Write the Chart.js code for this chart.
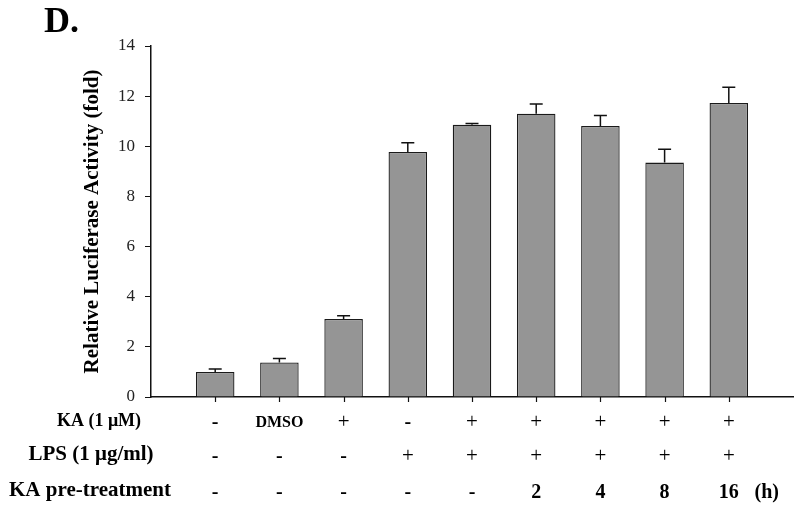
<!DOCTYPE html>
<html>
<head>
<meta charset="utf-8">
<script src="https://cdn.jsdelivr.net/npm/chart.js@4/dist/chart.umd.min.js"></script>
<style>
  html, body { margin: 0; padding: 0; background: #fff; }
  #wrap { width: 800px; height: 511px; position: relative; }
</style>
</head>
<body>
<div id="wrap"><canvas id="luciferaseChart"></canvas></div>
<script>
// groups (empty slot at both ends so the axis runs past the outer bars)
const groups = ['', 'g1', 'g2', 'g3', 'g4', 'g5', 'g6', 'g7', 'g8', 'g9', ''];
const foldValues = [null, 1.0, 1.38, 3.11, 9.77, 10.86, 11.30, 10.81, 9.35, 11.73, null];
const foldErrors = [null, 0.12, 0.16, 0.13, 0.37, 0.05, 0.39, 0.42, 0.53, 0.62, null];
const yTicks = [0, 2, 4, 6, 8, 10, 12, 14];

// treatment table under the x axis
const rowLabels = ['KA (1 \u03bcM)', 'LPS (1 \u03bcg/ml)', 'KA pre-treatment'];
const kaRow = ['-', 'DMSO', '+', '-', '+', '+', '+', '+', '+'];
const lpsRow = ['-', '-', '-', '+', '+', '+', '+', '+', '+'];
const preRow = ['-', '-', '-', '-', '-', '2', '4', '8', '16'];
const preUnit = '(h)';
const panelLabel = 'D.';

const serif = '"Liberation Serif", "Times New Roman", serif';

const extrasPlugin = {
    id: 'extras',
    afterDatasetsDraw(chart) {
        const ctx = chart.ctx;
        const y = chart.scales.y;
        const meta = chart.getDatasetMeta(0);
        ctx.save();
        ctx.strokeStyle = '#111';
        ctx.lineWidth = 1.5;
        meta.data.forEach((bar, i) => {
            if (foldValues[i] === null) return;
            const top = y.getPixelForValue(foldValues[i] + foldErrors[i]);
            ctx.beginPath();
            ctx.moveTo(bar.x, bar.y);
            ctx.lineTo(bar.x, top);
            ctx.moveTo(bar.x - 6.5, top);
            ctx.lineTo(bar.x + 6.5, top);
            ctx.stroke();
        });
        ctx.restore();
    },
    afterDraw(chart) {
        const ctx = chart.ctx;
        const x = chart.scales.x;
        const area = chart.chartArea;
        ctx.save();

        // x tick marks under each bar
        ctx.strokeStyle = '#111';
        ctx.lineWidth = 1.2;
        groups.forEach((g, i) => {
            if (!g) return;
            const px = Math.round(x.getPixelForValue(i)) + 0.5;
            ctx.beginPath();
            ctx.moveTo(px, area.bottom);
            ctx.lineTo(px, area.bottom + 5);
            ctx.stroke();
        });

        ctx.fillStyle = '#000';

        // panel letter
        ctx.textAlign = 'left';
        ctx.textBaseline = 'alphabetic';
        ctx.font = 'bold 36px ' + serif;
        ctx.fillText(panelLabel, 44, 32);

        const rows = [kaRow, lpsRow, preRow];
        const baselines = [428, 462, 498];
        const labelX = [99, 91, 90];
        const labelSize = [18, 21, 21];
        rows.forEach((row, r) => {
            ctx.textAlign = 'center';
            ctx.font = 'bold ' + labelSize[r] + 'px ' + serif;
            ctx.fillText(rowLabels[r], labelX[r], baselines[r] - 2);
            row.forEach((cell, i) => {
                const cx = x.getPixelForValue(i + 1);
                if (cell === '+') ctx.font = '21px ' + serif;
                else if (cell === 'DMSO') ctx.font = 'bold 16px ' + serif;
                else ctx.font = 'bold 20px ' + serif;
                ctx.fillText(cell, cx, baselines[r] - (cell === 'DMSO' ? 1 : 0));
            });
        });
        ctx.font = 'bold 20px ' + serif;
        ctx.fillText(preUnit, x.getPixelForValue(9) + 38, baselines[2]);
        ctx.restore();
    }
};

new Chart(document.getElementById('luciferaseChart'), {
    type: 'bar',
    data: {
        labels: groups,
        datasets: [{
            data: foldValues,
            backgroundColor: '#959595',
            borderColor: '#1a1a1a',
            borderWidth: 1.3,
            barPercentage: 0.6,
            categoryPercentage: 1.0
        }]
    },
    options: {
        responsive: true,
        maintainAspectRatio: false,
        animation: false,
        layout: { padding: { left: 0, right: 7, top: 46, bottom: 0 } },
        plugins: {
            legend: { display: false },
            tooltip: { enabled: false }
        },
        scales: {
            x: {
                offset: false,
                grid: { display: false },
                border: { display: true, color: '#111', width: 1.5 },
                ticks: { display: false },
                afterFit: scale => { scale.height = 114; }
            },
            y: {
                min: 0,
                max: 14,
                afterBuildTicks: scale => { scale.ticks = yTicks.map(v => ({ value: v })); },
                grid: { drawOnChartArea: false, tickLength: 6, color: '#111' },
                border: { display: true, color: '#111', width: 1.5 },
                ticks: {
                    padding: 10,
                    color: '#222',
                    font: { family: serif, size: 17 }
                },
                title: {
                    display: true,
                    text: 'Relative Luciferase Activity (fold)',
                    color: '#000',
                    font: { family: serif, size: 21, weight: 'bold' },
                    padding: { top: 80, bottom: 0 }
                },
                afterFit: scale => { scale.width = 151; }
            }
        }
    },
    plugins: [extrasPlugin]
});
</script>
</body>
</html>
